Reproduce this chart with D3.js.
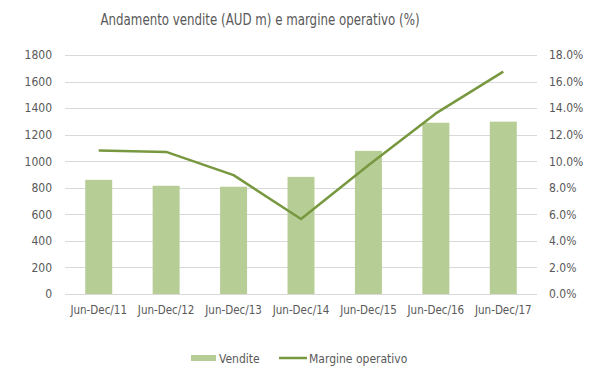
<!DOCTYPE html>
<html>
<head>
<meta charset="utf-8">
<title>Andamento vendite</title>
<script src="https://d3js.org/d3.v7.min.js"></script>
<style>
body { margin: 0; padding: 0; background: #fff; }
text { font-family: "DejaVu Sans Condensed", "Liberation Sans Narrow", sans-serif; fill: #595959; }
</style>
</head>
<body>
<div id="chart"></div>
<script>
// data
var periods = ["Jun-Dec/11", "Jun-Dec/12", "Jun-Dec/13", "Jun-Dec/14", "Jun-Dec/15", "Jun-Dec/16", "Jun-Dec/17"];
var vendite = [860, 815, 808, 882, 1078, 1290, 1298];
var margine = [10.8, 10.7, 8.95, 5.65, 9.7, 13.6, 16.75];
var leftTicks = [0, 200, 400, 600, 800, 1000, 1200, 1400, 1600, 1800];
var rightTicks = [0, 2, 4, 6, 8, 10, 12, 14, 16, 18];

var W = 599, H = 378;
var margin = {top: 55, right: 62, bottom: 84, left: 65};
var width = W - margin.left - margin.right,
    height = H - margin.top - margin.bottom;

var svg = d3.select("#chart").append("svg")
    .attr("width", W)
    .attr("height", H);

svg.append("text")
    .attr("x", 260)
    .attr("y", 25)
    .attr("text-anchor", "middle")
    .attr("font-size", 16)
    .attr("textLength", 319)
    .attr("lengthAdjust", "spacingAndGlyphs")
    .text("Andamento vendite (AUD m) e margine operativo (%)");

var g = svg.append("g")
    .attr("transform", "translate(" + margin.left + "," + margin.top + ")");

var xc = d3.scaleBand().domain(periods).range([0, width]);
var yL = d3.scaleLinear().domain([0, 1800]).range([height, 0]);
var yR = d3.scaleLinear().domain([0, 18]).range([height, 0]);

// gridlines
g.selectAll(".grid").data(leftTicks).enter().append("line")
    .attr("x1", 0).attr("x2", width)
    .attr("y1", function(d) { return Math.round(yL(d)) + 0.5; })
    .attr("y2", function(d) { return Math.round(yL(d)) + 0.5; })
    .attr("stroke", "#d9d9d9").attr("stroke-width", 1);

// bars
g.selectAll(".bar").data(vendite).enter().append("rect")
    .attr("x", function(d, i) { return xc(periods[i]) + xc.bandwidth() / 2 - xc.bandwidth() * 0.2; })
    .attr("width", xc.bandwidth() * 0.4)
    .attr("y", function(d) { return yL(d); })
    .attr("height", function(d) { return height - yL(d); })
    .attr("fill", "#b7cd96");

// line
var line = d3.line()
    .x(function(d, i) { return xc(periods[i]) + xc.bandwidth() / 2; })
    .y(function(d) { return yR(d); });
g.append("path").datum(margine)
    .attr("d", line)
    .attr("fill", "none")
    .attr("stroke", "#77983f")
    .attr("stroke-width", 2.5)
    .attr("stroke-linejoin", "round");

// axes
var axL = g.append("g")
    .call(d3.axisLeft(yL).tickValues(leftTicks).tickSize(0).tickPadding(13).tickFormat(d3.format("d")));
var axR = g.append("g").attr("transform", "translate(" + width + ",0)")
    .call(d3.axisRight(yR).tickValues(rightTicks).tickSize(0).tickPadding(12)
        .tickFormat(function(d) { return d.toFixed(1) + "%"; }));
var axB = g.append("g").attr("transform", "translate(0," + height + ")")
    .call(d3.axisBottom(xc).tickSize(0).tickPadding(12));
[axL, axR, axB].forEach(function(a) {
    a.select(".domain").remove();
    a.selectAll("text").attr("font-size", 12).attr("font-family", null).style("fill", "#595959");
});
axB.selectAll("text").attr("font-size", 11.5);

// legend
var lg = svg.append("g").attr("transform", "translate(0,358)");
lg.append("rect").attr("x", 191).attr("y", -3).attr("width", 25).attr("height", 6).attr("fill", "#b7cd96");
lg.append("text").attr("x", 219).attr("y", 4.5).attr("font-size", 12).text("Vendite");
lg.append("line").attr("x1", 279).attr("x2", 307).attr("y1", 0).attr("y2", 0)
    .attr("stroke", "#77983f").attr("stroke-width", 2.5);
lg.append("text").attr("x", 309).attr("y", 4.5).attr("font-size", 12).text("Margine operativo");
</script>
</body>
</html>
